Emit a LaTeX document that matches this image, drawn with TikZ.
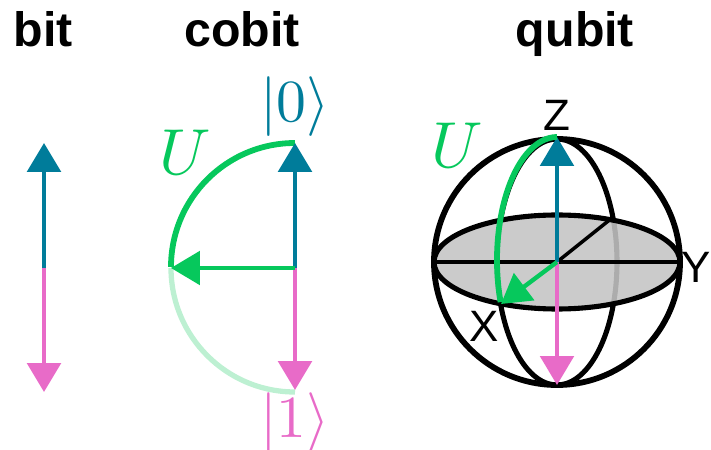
\documentclass[tikz,border=0pt]{standalone}
\usepackage{fontspec}
\setmainfont{Liberation Sans}
\usetikzlibrary{arrows.meta}
\definecolor{zeroteal}{HTML}{007C9A}
\definecolor{onepink}{HTML}{E86BC8}
\definecolor{ugreen}{HTML}{06C85C}
\definecolor{palegreen}{HTML}{BDF0D2}
\definecolor{discgray}{HTML}{C4C4C4}

\begin{document}
\begin{tikzpicture}[
    x=0.02cm, y=0.02cm,
    title/.style={font=\fontsize{27.5}{30}\selectfont\bfseries, anchor=base},
    axislab/.style={font=\fontsize{25}{27}\selectfont, inner sep=0pt},
    ketlab/.style={scale=3.4},
    ulab/.style={scale=3.7, text=ugreen},
    vec/.style={-{Triangle[length=16.5pt,width=19pt]}, line width=2.7pt},
    wire/.style={line width=3.3pt, color=black},
    midwire/.style={line width=2.9pt, color=black},
    thinwire/.style={line width=2pt, color=black}
]
\useasboundingbox (0,0) rectangle (711,450);

% Points
\coordinate (bitmid) at (44,182);
\coordinate (bittop) at (44,307);
\coordinate (bitbot) at (44,58);
\coordinate (comid)  at (295,182);
\coordinate (cotop)  at (295,307);
\coordinate (cobot)  at (295,60);
\coordinate (coleft) at (171,182);
\coordinate (qc)     at (557,188);
\coordinate (qtop)   at (557,313);
\coordinate (qbot)   at (557,65);
\coordinate (qleft)  at (434,188);
\coordinate (qright) at (680,188);
\coordinate (qback)  at (612,232);
\coordinate (qx)     at (501,146);

% Titles
\node[title] (tbit)   at (43,403)  {bit};
\node[title] (tcobit) at (242,403) {cobit};
\node[title] (tqubit) at (575,403) {qubit};

% Bit
\draw[vec, color=zeroteal] (bitmid) -- (bittop);
\draw[vec, color=onepink] (bitmid) -- (bitbot);

% Cobit
\draw[line width=3pt, color=palegreen] (coleft) arc[start angle=180, end angle=270, radius=124];
\draw[line width=3.3pt, color=ugreen] (cotop) arc[start angle=90, end angle=180, radius=124];
\draw[vec, color=zeroteal] (comid) -- (cotop);
\draw[vec, color=onepink] (comid) -- (cobot);
\draw[vec, color=ugreen, line width=2.5pt] (comid) -- (coleft);
\node[ketlab, text=zeroteal] (ket0) at (295,343) {$|0\rangle$};
\node[ketlab, text=onepink] (ket1) at (295,27) {$|1\rangle$};
\node[ulab] (ucobit) at (185,298) {$U$};

% Qubit sphere
\draw[wire] (qc) circle[radius=123];
\draw[midwire] (qc) ellipse[x radius=60, y radius=123];
\fill[discgray, fill opacity=0.88] (qc) ellipse[x radius=123, y radius=47];
\draw[midwire] (qc) ellipse[x radius=123, y radius=47];
\draw[thinwire] (qleft) -- (qright);
\draw[thinwire] (qc) -- (qback);

% Qubit arrows
\draw[vec, color=zeroteal, line width=2.5pt] (qc) -- (qtop);
\draw[vec, color=onepink, line width=2.5pt] (qc) -- (qbot);
\draw[line width=3.3pt, color=ugreen] (qtop) arc[start angle=90, end angle=200, x radius=60, y radius=123];
\draw[vec, color=ugreen, line width=2.5pt] (qc) -- (qx);
\node[axislab] (zlab) at (557,335) {Z};
\node[axislab] (ylab) at (696,183) {Y};
\node[axislab] (xlab) at (484,124) {X};
\node[ulab] (uqubit) at (457,305) {$U$};
\end{tikzpicture}
\end{document}
